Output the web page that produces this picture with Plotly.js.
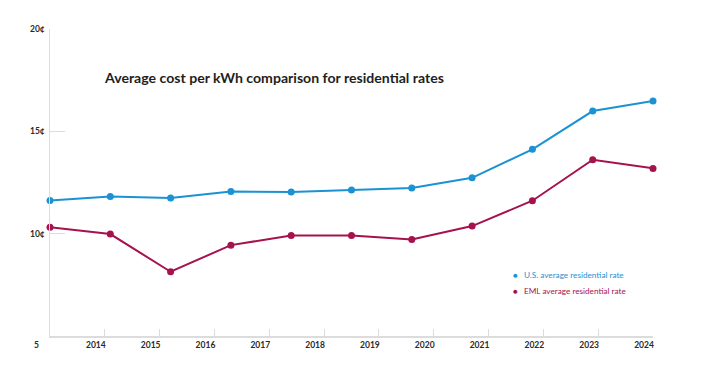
<!DOCTYPE html>
<html>
<head>
<meta charset="utf-8">
<script src="https://cdn.plot.ly/plotly-3.0.1.min.js"></script>
<style>html,body{margin:0;padding:0;background:#fff;}#chart{width:710px;height:375px;}</style>
</head>
<body>
<div id="chart"></div>
<script>
// Data
const years = [2014, 2015, 2016, 2017, 2018, 2019, 2020, 2021, 2022, 2023, 2024];
const usRate = [11.62, 11.82, 11.74, 12.06, 12.03, 12.13, 12.23, 12.73, 14.12, 15.99, 16.48];
const emlRate = [10.31, 9.98, 8.14, 9.44, 9.91, 9.91, 9.72, 10.37, 11.61, 13.61, 13.19];
const tickYears = [2014, 2015, 2016, 2017, 2018, 2019, 2020, 2021, 2022, 2023, 2024];
const yTickVals = [10, 15, 20];
const yTickText = ['10¢', '15¢', '20¢'];
const titleText = 'Average cost per kWh comparison for residential rates';
const usName = 'U.S. average residential rate';
const emlName = 'EML average residential rate';

const blue = '#1b92d3';
const red = '#a5124d';
const axisGray = '#dcdcdc';
const font = 'Lato, "Open Sans", sans-serif';

// tick labels are spaced over 2013..2024 while data spans 2014..2024
const first = years[0], last = years[years.length - 1];
const tickPos = tickYears.map(y => first + (y - (tickYears[0] - 1)) * (last - first) / (tickYears.length));

const traces = [
  {x: years, y: usRate, type: 'scatter', mode: 'lines+markers', name: usName,
   line: {color: blue, width: 2}, marker: {color: blue, size: 7}, showlegend: false, cliponaxis: false},
  {x: years, y: emlRate, type: 'scatter', mode: 'lines+markers', name: emlName,
   line: {color: red, width: 2}, marker: {color: red, size: 7}, showlegend: false, cliponaxis: false}
];

const layout = {
  width: 710, height: 375,
  margin: {l: 50, r: 57, t: 29, b: 39},
  paper_bgcolor: '#fff', plot_bgcolor: '#fff',
  showlegend: false,
  font: {family: font, color: '#2a2a2a'},
  title: {text: titleText, font: {family: font, size: 14.1, weight: 'bold', color: '#1e1e1e'},
          x: 105 / 710, xanchor: 'left', xref: 'container', y: 1 - 78.5 / 375, yanchor: 'middle', yref: 'container'},
  xaxis: {range: [first, last], showgrid: false, zeroline: false,
          showline: true, linecolor: axisGray, linewidth: 1.5,
          tickmode: 'array', tickvals: tickPos, ticktext: tickYears.map(String),
          ticks: 'inside', ticklen: 7, tickcolor: axisGray, tickwidth: 1,
          ticklabelshift: -9,
          tickfont: {family: font, size: 8.5, weight: 'bold', color: '#2a2a2a'}},
  yaxis: {range: [5, 20], showgrid: false, zeroline: false,
          showline: true, linecolor: axisGray, linewidth: 1.5,
          tickmode: 'array', tickvals: yTickVals, ticktext: yTickText,
          ticks: 'inside', ticklen: 15, tickcolor: axisGray, tickwidth: 1,
          ticklabelstandoff: 2,
          tickfont: {family: font, size: 8.5, weight: 'bold', color: '#2a2a2a'}},
  annotations: [
    {text: '5', xref: 'paper', yref: 'y', x: 0, y: 5, xanchor: 'right', yanchor: 'middle',
     xshift: -9, yshift: -9, showarrow: false, font: {family: font, size: 8.5, weight: 'bold', color: '#2a2a2a'}},
    {text: '●', xref: 'paper', yref: 'paper', x: (515 - 50) / 603, y: (335.6 - 275) / 306.9,
     xanchor: 'center', yanchor: 'middle', showarrow: false, font: {family: font, size: 8, color: blue}},
    {text: usName, xref: 'paper', yref: 'paper', x: (522 - 50) / 603, y: (335.6 - 275) / 306.9,
     xanchor: 'left', yanchor: 'middle', showarrow: false, font: {family: font, size: 8.2, color: blue}},
    {text: '●', xref: 'paper', yref: 'paper', x: (515 - 50) / 603, y: (335.6 - 291) / 306.9,
     xanchor: 'center', yanchor: 'middle', showarrow: false, font: {family: font, size: 8, color: red}},
    {text: emlName, xref: 'paper', yref: 'paper', x: (522 - 50) / 603, y: (335.6 - 291) / 306.9,
     xanchor: 'left', yanchor: 'middle', showarrow: false, font: {family: font, size: 8.2, color: red}}
  ]
};

Plotly.newPlot('chart', traces, layout, {displayModeBar: false, staticPlot: true});
</script>
</body>
</html>
